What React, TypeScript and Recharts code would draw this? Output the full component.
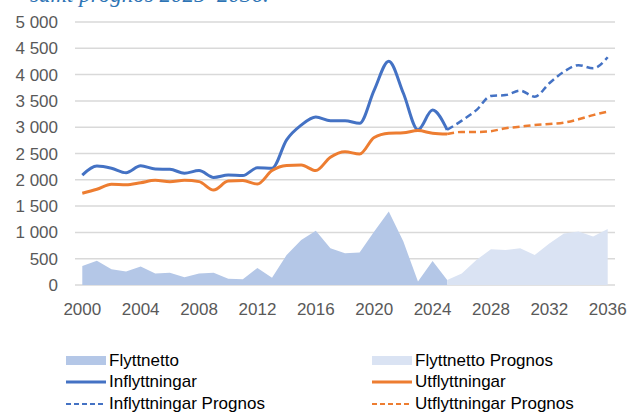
import React from "react";
import { ComposedChart, Area, Line, XAxis, YAxis, CartesianGrid } from "recharts";

const years = [
  2000, 2001, 2002, 2003, 2004, 2005, 2006, 2007, 2008, 2009, 2010, 2011, 2012,
  2013, 2014, 2015, 2016, 2017, 2018, 2019, 2020, 2021, 2022, 2023, 2024, 2025,
  2026, 2027, 2028, 2029, 2030, 2031, 2032, 2033, 2034, 2035, 2036,
];

// utfall 2000-2025
const inflyttningar = [
  2090, 2260, 2220, 2135, 2265, 2205, 2200, 2125, 2175, 2045, 2090, 2080, 2230,
  2220, 2760, 3040, 3195, 3125, 3125, 3075, 3705, 4255, 3645, 2950, 3325, 2950,
];
const utflyttningar = [
  1745, 1820, 1915, 1905, 1945, 1990, 1965, 1990, 1965, 1805, 1975, 1985, 1920,
  2175, 2270, 2280, 2175, 2430, 2535, 2490, 2805, 2885, 2895, 2935, 2885, 2870,
];
const flyttnetto = [
  360, 460, 300, 255, 350, 220, 235, 145, 220, 235, 120, 110, 325, 140, 570, 855,
  1030, 700, 605, 620, 1015, 1395, 825, 65, 455, 95,
];

// prognos 2025-2036
const inflyttningarPrognos = [2950, 3125, 3325, 3595, 3610, 3695, 3580, 3835, 4055, 4180, 4120, 4330];
const utflyttningarPrognos = [2870, 2910, 2910, 2925, 2980, 3010, 3040, 3060, 3085, 3150, 3230, 3295];
const flyttnettoPrognos = [95, 220, 475, 680, 665, 700, 570, 790, 980, 1015, 920, 1065];

const yTicks = [0, 500, 1000, 1500, 2000, 2500, 3000, 3500, 4000, 4500, 5000];
const xTicks = [2000, 2004, 2008, 2012, 2016, 2020, 2024, 2028, 2032, 2036];

const PROG_START = 2025;

const data = years.map((year, i) => {
  const p = i - (years.length - inflyttningarPrognos.length);
  return {
    year,
    flyttnetto: year <= PROG_START ? flyttnetto[i] : undefined,
    inflyttningar: year <= PROG_START ? inflyttningar[i] : undefined,
    utflyttningar: year <= PROG_START ? utflyttningar[i] : undefined,
    flyttnettoPrognos: p >= 0 ? flyttnettoPrognos[p] : undefined,
    inflyttningarPrognos: p >= 0 ? inflyttningarPrognos[p] : undefined,
    utflyttningarPrognos: p >= 0 ? utflyttningarPrognos[p] : undefined,
  };
});

const BLUE = "#4472c4";
const ORANGE = "#ed7d31";
const AREA = "#b4c7e7";
const AREA_LIGHT = "#dae3f3";
const FONT = "'Liberation Sans', Arial, sans-serif";

const fmt = (v: number) =>
  v >= 1000 ? `${Math.floor(v / 1000)} ${String(v % 1000).padStart(3, "0")}` : String(v);

const legendItems = [
  { label: "Flyttnetto", kind: "area", color: AREA },
  { label: "Flyttnetto Prognos", kind: "area", color: AREA_LIGHT },
  { label: "Inflyttningar", kind: "line", color: BLUE },
  { label: "Utflyttningar", kind: "line", color: ORANGE },
  { label: "Inflyttningar Prognos", kind: "dash", color: BLUE },
  { label: "Utflyttningar Prognos", kind: "dash", color: ORANGE },
];

function LegendIcon({ kind, color }: { kind: string; color: string }) {
  return (
    <svg width={41} height={12} style={{ marginRight: 2 }}>
      {kind === "area" && <rect x={0} y={1} width={40} height={9} fill={color} />}
      {kind === "line" && <line x1={0} x2={40} y1={6} y2={6} stroke={color} strokeWidth={3} />}
      {kind === "dash" && (
        <line x1={0} x2={40} y1={6} y2={6} stroke={color} strokeWidth={2} strokeDasharray="5 3" />
      )}
    </svg>
  );
}

export default function App() {
  return (
    <div
      style={{
        position: "absolute",
        left: 0,
        top: 0,
        width: 628,
        height: 412,
        background: "#fff",
        overflow: "hidden",
        fontFamily: FONT,
      }}
    >
      <div
        style={{
          position: "absolute",
          left: 30,
          top: -17,
          fontFamily: "'Liberation Serif', 'Times New Roman', serif",
          fontStyle: "italic",
          fontSize: 23,
          lineHeight: "23px",
          color: "#2e74b5",
          whiteSpace: "nowrap",
        }}
      >
        samt prognos 2025–2036.
      </div>
      <div style={{ position: "absolute", left: 0, top: 0 }}>
        <ComposedChart
          width={628}
          height={330}
          data={data}
          margin={{ top: 22, right: 13, bottom: 0, left: 0 }}
        >
          <CartesianGrid vertical={false} stroke="#d9d9d9" strokeWidth={1.5} />
          <XAxis
            dataKey="year"
            type="number"
            domain={[1999.5, 2036.5]}
            ticks={xTicks}
            axisLine={false}
            tickLine={false}
            height={45}
            tickMargin={12}
            tick={{ fill: "#595959", fontSize: 17, fontFamily: FONT }}
          />
          <YAxis
            domain={[0, 5000]}
            ticks={yTicks}
            tickFormatter={fmt}
            axisLine={false}
            tickLine={false}
            width={75}
            tickMargin={11}
            interval={0}
            tick={{ fill: "#595959", fontSize: 17, fontFamily: FONT }}
          />
          <Area
            dataKey="flyttnetto"
            type="linear"
            fill={AREA}
            fillOpacity={1}
            stroke="none"
            isAnimationActive={false}
          />
          <Area
            dataKey="flyttnettoPrognos"
            type="linear"
            fill={AREA_LIGHT}
            fillOpacity={1}
            stroke="none"
            isAnimationActive={false}
          />
          <Line
            dataKey="inflyttningar"
            type="monotone"
            stroke={BLUE}
            strokeWidth={3}
            dot={false}
            isAnimationActive={false}
          />
          <Line
            dataKey="utflyttningar"
            type="monotone"
            stroke={ORANGE}
            strokeWidth={3}
            dot={false}
            isAnimationActive={false}
          />
          <Line
            dataKey="inflyttningarPrognos"
            type="monotone"
            stroke={BLUE}
            strokeWidth={2.5}
            strokeDasharray="7 4"
            dot={false}
            isAnimationActive={false}
          />
          <Line
            dataKey="utflyttningarPrognos"
            type="monotone"
            stroke={ORANGE}
            strokeWidth={2.5}
            strokeDasharray="7 4"
            dot={false}
            isAnimationActive={false}
          />
        </ComposedChart>
      </div>
      <div
        style={{
          position: "absolute",
          left: 66,
          top: 350,
          display: "grid",
          gridTemplateColumns: "306px 220px",
          rowGap: 0,
          fontSize: 17,
          color: "#000",
        }}
      >
        {legendItems.map((it) => (
          <div
            key={it.label}
            style={{ display: "flex", alignItems: "center", height: 21.5, whiteSpace: "nowrap" }}
          >
            <LegendIcon kind={it.kind} color={it.color} />
            <span>{it.label}</span>
          </div>
        ))}
      </div>
    </div>
  );
}
